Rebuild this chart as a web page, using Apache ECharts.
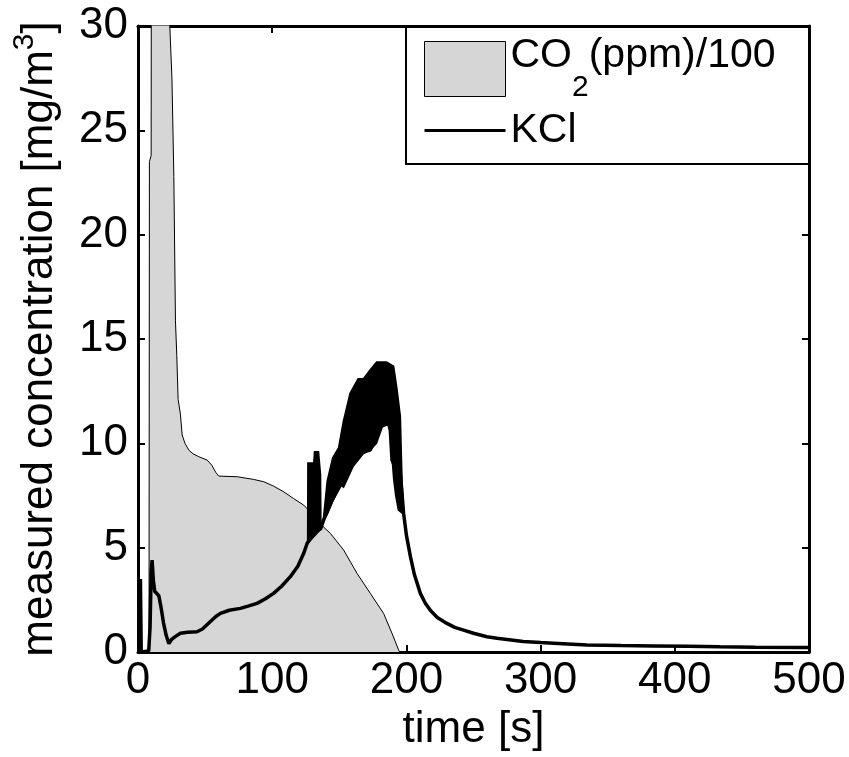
<!DOCTYPE html>
<html><head><meta charset="utf-8">
<script src="https://cdn.jsdelivr.net/npm/echarts@6/dist/echarts.min.js"></script>
<style>html,body{margin:0;padding:0;background:#fff}#c{width:849px;height:757px}</style>
</head><body><div id="c"></div>
<script>
// ---- data ----
const xTicks = [0, 100, 200, 300, 400, 500];
const yTicks = [0, 5, 10, 15, 20, 25, 30];

// CO2 (ppm)/100 — grey area
const co2Time  = [0, 8.2, 8.5, 9.8, 10, 14, 18, 21, 23.7, 25.3, 26.7, 27.9, 28.9, 29.9, 31.6, 32.9, 35, 37.8, 41, 45.3, 51.5, 55, 58, 60.2, 73.9, 86.2, 93.7, 101, 108, 116, 123.5, 130, 138, 143.3, 153.2, 163.2, 173.1, 183, 189.3, 194.2, 195];
const co2Value = [0, 0, 23.5, 23.8, 40, 42, 37, 32, 30, 27.5, 22.8, 15.9, 14.2, 12.1, 11.4, 10.4, 10, 9.68, 9.5, 9.36, 9.2, 8.95, 8.6, 8.43, 8.4, 8.27, 8.16, 7.95, 7.7, 7.35, 7.04, 6.6, 6.0, 5.69, 4.89, 3.77, 2.81, 1.85, 0.89, 0.1, 0];

// KCl — black line
const kclTime  = [1.8, 2.4, 8, 9, 9.8, 10.5, 11.5, 12.5, 14, 15.5, 17, 19, 21, 23, 25, 28, 31.6, 37, 44, 48, 53, 58, 61.4, 68, 76.3, 82, 88.7, 95, 101, 107, 113.5, 119, 123.5, 126, 131, 136, 138.3, 144, 150.8, 156, 162, 168, 173, 177, 180.5, 186.7, 188, 189.3, 192, 195.5, 197.9, 200, 203, 206, 210.4, 214, 217.8, 223, 230.2, 236, 242.6, 250, 260, 267.5, 275, 287, 300, 309.6, 334.5, 360, 384, 410, 433.6, 460, 495, 500];
const kclValue = [3.5, 0, 0.05, 1.2, 3.8, 4.4, 3.4, 2.9, 2.8, 2.7, 2.2, 1.4, 0.8, 0.4, 0.6, 0.75, 0.9, 0.95, 0.97, 1.1, 1.4, 1.7, 1.85, 2.0, 2.09, 2.2, 2.33, 2.55, 2.81, 3.15, 3.61, 4.1, 4.73, 5.2, 5.7, 5.9, 6.32, 7.2, 8.0, 8.9, 9.44, 9.6, 9.68, 10.2, 10.8, 10.96, 10.64, 9.2, 8.8, 8.57, 6.65, 5.6, 4.57, 3.7, 2.81, 2.35, 2.0, 1.65, 1.37, 1.18, 1.05, 0.9, 0.73, 0.66, 0.6, 0.5, 0.45, 0.42, 0.34, 0.31, 0.29, 0.27, 0.25, 0.23, 0.22, 0.22];

// KCl noisy envelope (spike near 130 s and main peak)
const spikeUpperTime  = [126.4, 126.6, 131, 131.5, 134.5, 136, 136.3];
const spikeUpperValue = [5.4, 9.06, 9.06, 9.6, 9.6, 8.5, 6.2];
const spikeLowerTime  = [126.4, 136.3];
const spikeLowerValue = [5.2, 5.9];

const peakUpperTime  = [138, 141, 145, 149.5, 153, 158, 164, 168, 172.8, 177.8, 185.2, 190.5, 193, 195.5, 196.8, 198];
const peakUpperValue = [6.3, 8.2, 9.3, 9.8, 11.05, 12.4, 13.1, 13.1, 13.5, 13.9, 13.9, 13.7, 12.6, 11.3, 8.1, 6.6];
const peakLowerTime  = [138, 141, 145, 150.8, 153.2, 160.4, 167.8, 173, 177.7, 183, 187.7, 189.3, 190.5, 192, 194, 198];
const peakLowerValue = [6.3, 6.6, 7.2, 8.0, 7.9, 8.9, 9.5, 9.68, 10.0, 10.96, 10.9, 9.3, 8.3, 7.5, 6.8, 6.6];

const legendNames = ['CO2', 'KCl'];

// ---- build ----
const zip = (a, b) => a.map((v, i) => [v, b[i]]);
const bands = [
  { upper: zip(spikeUpperTime, spikeUpperValue), lower: zip(spikeLowerTime, spikeLowerValue) },
  { upper: zip(peakUpperTime, peakUpperValue), lower: zip(peakLowerTime, peakLowerValue) }
];
const FONT = '"Liberation Sans", Arial, Helvetica, sans-serif';
const FS = 44;
const LFS = 41;

function xAx(pos, labels) {
  return {
    type: 'value', position: pos, min: xTicks[0], max: xTicks[xTicks.length - 1],
    interval: xTicks[1] - xTicks[0],
    axisLine: { show: true, onZero: false, lineStyle: { color: '#000', width: 3 } },
    axisTick: { show: true, inside: true, length: 7, lineStyle: { color: '#000', width: 2 } },
    axisLabel: { show: labels, color: '#000', fontSize: FS, fontFamily: FONT, margin: 7, showMinLabel: true, showMaxLabel: true },
    splitLine: { show: false }
  };
}
function yAx(pos, labels) {
  return {
    type: 'value', position: pos, min: yTicks[0], max: yTicks[yTicks.length - 1],
    interval: yTicks[1] - yTicks[0],
    axisLine: { show: true, onZero: false, lineStyle: { color: '#000', width: 3 } },
    axisTick: { show: true, inside: true, length: 7, lineStyle: { color: '#000', width: 2 } },
    axisLabel: { show: labels, color: '#000', fontSize: FS, fontFamily: FONT, margin: 10, showMinLabel: true, showMaxLabel: true },
    splitLine: { show: false }
  };
}

const xMain = Object.assign(xAx('bottom', true), {
  name: 'time [s]', nameLocation: 'middle', nameGap: 55,
  nameTextStyle: { color: '#000', fontSize: FS, fontFamily: FONT }
});
const yMain = Object.assign(yAx('left', true), {
  name: '{t|measured concentration [mg/m}{sup|3}{t|]}', nameLocation: 'middle', nameGap: 76,
  nameTextStyle: { color: '#000', fontSize: FS, fontFamily: FONT,
    rich: { t: { fontSize: FS, fontFamily: FONT, color: '#000', verticalAlign: 'bottom' },
            sup: { fontSize: 30, fontFamily: FONT, color: '#000', verticalAlign: 'bottom', padding: [0, 0, 22, 0] } } }
});

const chart = echarts.init(document.getElementById('c'), null, { renderer: 'canvas' });
chart.setOption({
  animation: false,
  backgroundColor: '#fff',
  grid: { left: 138, top: 26, right: 40, bottom: 105, containLabel: false },
  xAxis: [xMain, xAx('top', false)],
  yAxis: [yMain, yAx('right', false)],
  graphic: [{
    type: 'rect', left: 405, top: 26, z: 1,
    shape: { width: 403, height: 137 },
    style: { fill: '#fff', stroke: '#000', lineWidth: 2 }
  }],
  legend: {
    orient: 'vertical', left: 405, top: 26, z: 10,
    padding: [9.5, 13, 13, 18],
    itemWidth: 81, itemHeight: 55, itemGap: 6, selectedMode: false,
    data: [
      { name: legendNames[0], icon: 'rect', itemStyle: { color: '#d6d6d6', borderColor: '#000', borderWidth: 1 } },
      { name: legendNames[1], itemStyle: { color: 'rgba(0,0,0,0)', borderColor: 'rgba(0,0,0,0)', borderWidth: 0 }, lineStyle: { color: '#000', width: 3 } }
    ],
    formatter: function (n) { return n === 'CO2' ? '{a|CO}{s|2}{a|(ppm)/100}' : '{b|KCl}'; },
    textStyle: {
      color: '#000', fontFamily: FONT, fontSize: LFS,
      rich: {
        a: { fontSize: LFS, fontFamily: FONT, color: '#000', verticalAlign: 'bottom', padding: [0, 0, 26, 0] },
        s: { fontSize: 30, fontFamily: FONT, color: '#000', verticalAlign: 'bottom' },
        b: { fontSize: LFS, fontFamily: FONT, color: '#000' }
      }
    }
  },
  series: [
    {
      name: 'CO2', type: 'line', data: zip(co2Time, co2Value), symbol: 'none', clip: true,
      lineStyle: { color: '#000', width: 1 }, itemStyle: { color: '#d6d6d6' },
      areaStyle: { color: '#d6d6d6', opacity: 1, origin: 0 }, z: 1
    },
    {
      name: 'KCl', type: 'line', data: zip(kclTime, kclValue), symbol: 'none', clip: true,
      lineStyle: { color: '#000', width: 3.5 }, itemStyle: { color: '#000' }, z: 3
    },
    {
      name: 'KCl band', type: 'custom', clip: true, z: 3,
      data: bands.map(b => b.upper[0]),
      renderItem: function (params, api) {
        const b = bands[params.dataIndex];
        const pts = b.upper.map(p => api.coord(p)).concat(b.lower.slice().reverse().map(p => api.coord(p)));
        return { type: 'polygon', shape: { points: pts }, style: { fill: '#000', stroke: '#000', lineWidth: 1.5 } };
      }
    }
  ]
});
</script>
</body></html>
